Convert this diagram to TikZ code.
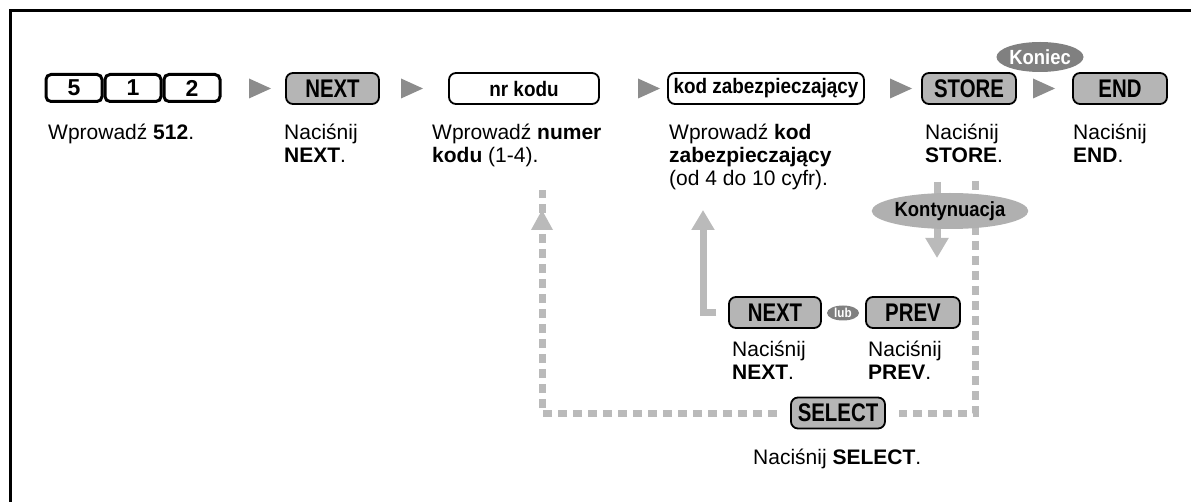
\documentclass[tikz,border=0pt]{standalone}
\usepackage{fontspec}
\setmainfont{Liberation Sans}
\newfontfamily\condA[FakeStretch=0.8]{Liberation Sans}
\newfontfamily\condB[FakeStretch=0.9]{Liberation Sans}
\usetikzlibrary{shapes.geometric,arrows.meta}
\definecolor{btngray}{gray}{0.71}
\definecolor{trigray}{gray}{0.55}
\definecolor{arrgray}{gray}{0.73}
\definecolor{konieccol}{gray}{0.5}
\definecolor{kontcol}{gray}{0.69}
\begin{document}
\begin{tikzpicture}[x=1pt,y=-1pt,
  keybox/.style={draw=black,line width=3pt,rounded corners=5pt,fill=white,minimum width=56pt,minimum height=27pt,inner sep=0pt,font=\fontsize{23}{23}\selectfont\bfseries},
  btn/.style={draw=black,line width=1.8pt,rounded corners=7pt,fill=btngray,minimum height=31pt,inner sep=0pt,font=\fontsize{25.5}{25}\selectfont\condA\bfseries},
  field/.style={draw=black,line width=1.8pt,rounded corners=7pt,fill=white,minimum height=31pt,inner sep=0pt,font=\fontsize{21}{21}\selectfont\condB\bfseries},
  lbl/.style={anchor=base west,inner sep=0pt,font=\fontsize{21}{23}\selectfont},
  tri/.style={fill=trigray},
  garr/.style={draw=arrgray,line width=7pt,-{Triangle[length=20pt 0 0,width=22pt 0 0]}},
  dsh/.style={draw=arrgray,line width=7pt,dash pattern=on 9pt off 6pt},
  tag/.style={ellipse,inner sep=0pt,font=\fontsize{20.5}{20}\selectfont\condB\bfseries}
]
\useasboundingbox (0,0) rectangle (1191,502);
\fill[white] (0,0) rectangle (1191,502);
% frame
\draw[line width=3.5pt] (10.5,502) -- (10.5,10.5) -- (1191,10.5);

% keys
\node[keybox] (k5) at (74,88) {5};
\node[keybox] (k1) at (133,88) {1};
\node[keybox] (k2) at (192,88) {2};

% main row
\node[btn,minimum width=93pt] (next) at (332.5,88.5) {NEXT};
\node[field,minimum width=150pt] (nrkodu) at (524,88.5) {nr kodu};
\node[field,minimum width=196pt] (kodzab) at (766,88.5) {kod zabezpieczający};
\node[btn,minimum width=94pt] (store) at (969,88.5) {STORE};
\node[btn,minimum width=94pt] (endb) at (1120,88.5) {END};

% triangles
\foreach \x in {249,401,638,890,1033}
  \fill[tri] (\x,78.5) -- ++(22,10) -- ++(-22,10) -- cycle;

% labels row 1
\node[lbl] (l1) at (48,140) {Wprowadź \textbf{512}.};
\node[lbl] (l2) at (284,140) {\vtop{\hbox{Naciśnij}\hbox{\textbf{NEXT}.}}};
\node[lbl] (l3) at (432,140) {\vtop{\hbox{Wprowadź \textbf{numer}}\hbox{\textbf{kodu} (1-4).}}};
\node[lbl] (l4) at (669,140) {\vtop{\hbox{Wprowadź \textbf{kod}}\hbox{\textbf{zabezpieczający}}\hbox{(od 4 do 10 cyfr).}}};
\node[lbl] (l5) at (925,140) {\vtop{\hbox{Naciśnij}\hbox{\textbf{STORE}.}}};
\node[lbl] (l6) at (1073,140) {\vtop{\hbox{Naciśnij}\hbox{\textbf{END}.}}};

% second row
\node[btn,minimum width=92pt] (next2) at (775,312.5) {NEXT};
\node[btn,minimum width=94pt] (prev) at (913,312.5) {PREV};
\node[ellipse,fill=konieccol,minimum width=32pt,minimum height=15pt,inner sep=0pt,text=white,font=\fontsize{13}{13}\selectfont\condB\bfseries] (lub) at (843,313) {lub};
\node[lbl] (l7) at (732,357) {\vtop{\hbox{Naciśnij}\hbox{\textbf{NEXT}.}}};
\node[lbl] (l8) at (868,357) {\vtop{\hbox{Naciśnij}\hbox{\textbf{PREV}.}}};

% select
\node[btn,minimum width=94pt] (select) at (838,413) {SELECT};
\node[lbl] (l9) at (753,464) {Naciśnij \textbf{SELECT}.};

% connectors
\coordinate (nrtip) at (542,210);
\coordinate (rtop) at (975,181);
\coordinate (kodtip) at (703,210);
\coordinate (dtop) at (937,182);
\coordinate (dtip) at (937,258);

\draw[dsh,shorten >=13pt] (rtop) |- (select.east);
\draw[dsh,shorten <=13pt] (select.west) -| ([yshift=20pt]nrtip);
\fill[arrgray] (nrtip) -- ++(11,20) -- ++(-22,0) -- cycle;
\draw[garr,shorten <=12pt] (next2.west) -| (kodtip);
\draw[garr] (dtop) -- (dtip);

% tags
\node[tag,fill=kontcol,minimum width=152pt,minimum height=36pt] (kont) at (950,211) {Kontynuacja};
\node[tag,fill=konieccol,text=white,minimum width=84pt,minimum height=30pt] (koniec) at (1040,57) {Koniec};
\end{tikzpicture}
\end{document}
